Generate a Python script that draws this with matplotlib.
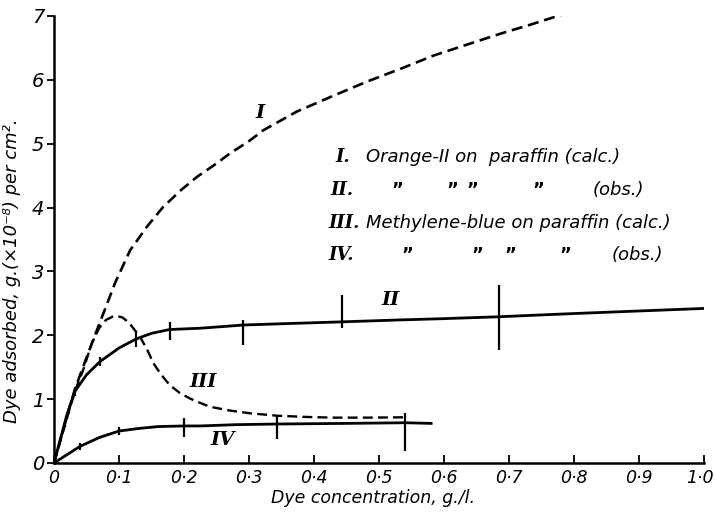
import matplotlib
matplotlib.use("Agg")
import matplotlib.pyplot as plt
import matplotlib.transforms as mtransforms

# curve I - Orange-II on paraffin (calc.)
conc_I = [0, 0.015, 0.032, 0.05, 0.066, 0.08, 0.094, 0.117, 0.143, 0.168, 0.195,
          0.22, 0.25, 0.271, 0.3, 0.322, 0.373, 0.425, 0.481, 0.535, 0.584,
          0.635, 0.686, 0.735, 0.784]
ads_I = [0, 0.55, 1.15, 1.65, 2.08, 2.45, 2.82, 3.33, 3.70, 4.01, 4.27,
         4.48, 4.69, 4.85, 5.04, 5.21, 5.50, 5.73, 5.97, 6.18, 6.38,
         6.55, 6.72, 6.87, 7.03]

# curve II - Orange-II on paraffin (obs.)
conc_II = [0, 0.01, 0.02, 0.032, 0.05, 0.071, 0.1, 0.126, 0.15, 0.178, 0.225,
           0.291, 0.35, 0.443, 0.532, 0.6, 0.685, 0.8, 0.9, 1.0]
ads_II = [0, 0.38, 0.76, 1.12, 1.38, 1.59, 1.80, 1.94, 2.03, 2.09, 2.11,
          2.16, 2.18, 2.21, 2.24, 2.26, 2.29, 2.34, 2.38, 2.42]
err_x_II = [0.032, 0.071, 0.126, 0.178, 0.291, 0.443, 0.685]
err_lo_II = [1.05, 1.52, 1.82, 1.92, 1.85, 2.11, 1.77]
err_hi_II = [1.19, 1.66, 2.05, 2.21, 2.24, 2.63, 2.79]

# curve III - Methylene-blue on paraffin (calc.)
conc_III = [0, 0.032, 0.045, 0.058, 0.07, 0.08, 0.09, 0.097, 0.105, 0.115, 0.125,
            0.132, 0.143, 0.153, 0.165, 0.178, 0.193, 0.209, 0.225, 0.24, 0.271,
            0.30, 0.343, 0.39, 0.43, 0.48, 0.537]
ads_III = [0, 1.12, 1.46, 1.87, 2.12, 2.24, 2.29, 2.30, 2.28, 2.20, 2.07,
           1.98, 1.78, 1.56, 1.38, 1.22, 1.10, 1.01, 0.94, 0.88, 0.82,
           0.78, 0.74, 0.72, 0.71, 0.71, 0.715]

# curve IV - Methylene-blue on paraffin (obs.)
conc_IV = [0, 0.02, 0.04, 0.07, 0.1, 0.13, 0.16, 0.2, 0.225, 0.28, 0.343,
           0.45, 0.54, 0.58]
ads_IV = [0, 0.13, 0.26, 0.40, 0.50, 0.54, 0.57, 0.58, 0.58, 0.60, 0.61,
          0.62, 0.63, 0.62]
err_x_IV = [0.04, 0.1, 0.2, 0.343, 0.54]
err_lo_IV = [0.21, 0.44, 0.41, 0.37, 0.19]
err_hi_IV = [0.31, 0.56, 0.70, 0.75, 0.79]

x_ticks = [0, 0.1, 0.2, 0.3, 0.4, 0.5, 0.6, 0.7, 0.8, 0.9, 1.0]
x_tick_labels = ["0", "0·1", "0·2", "0·3", "0·4", "0·5", "0·6", "0·7", "0·8", "0·9", "1·0"]
y_ticks = [0, 1, 2, 3, 4, 5, 6, 7]

# key text, one entry per line
key_numerals = ["I.", "II.", "III.", "IV."]
key_texts = ["Orange-II on  paraffin (calc.)", "", "Methylene-blue on paraffin (calc.)", ""]

SANS = dict(family="DejaVu Sans", style="italic")
ROMAN = dict(family="DejaVu Serif", style="italic", weight="bold")


def draw_curves(ax):
    dash = (0, (4.2, 2.2))
    ax.plot(conc_I, ads_I, color="black", lw=1.9, linestyle=dash)
    ax.plot(conc_III, ads_III, color="black", lw=1.7, linestyle=dash)
    ax.plot(conc_II, ads_II, color="black", lw=2.0)
    ax.plot(conc_IV, ads_IV, color="black", lw=2.0)

    #error ticks
    ax.vlines(err_x_II, err_lo_II, err_hi_II, color="black", lw=1.6)
    ax.vlines(err_x_IV, err_lo_IV, err_hi_IV, color="black", lw=1.6)

    #curve labels
    ax.text(0.317, 5.48, "I", fontsize=14, ha="center", va="center", **ROMAN)
    ax.text(0.517, 2.55, "II", fontsize=14, ha="center", va="center", **ROMAN)
    ax.text(0.23, 1.27, "III", fontsize=14, ha="center", va="center", **ROMAN)
    ax.text(0.26, 0.36, "IV", fontsize=14, ha="center", va="center", **ROMAN)


def draw_key(ax):
    rows_y = [4.79, 4.27, 3.76, 3.26]
    num_x = [0.433, 0.425, 0.422, 0.422]
    for i in range(4):
        ax.text(num_x[i], rows_y[i], key_numerals[i], fontsize=13, va="center", **ROMAN)
        if key_texts[i]:
            ax.text(0.48, rows_y[i], key_texts[i], fontsize=13, va="center", **SANS)

    #ditto marks
    for x in [0.528, 0.612, 0.643, 0.745]:
        ax.text(x, rows_y[1], "\u201d", fontsize=13, va="center", ha="center",
                family="DejaVu Sans", weight="bold")
    ax.text(0.829, rows_y[1], "(obs.)", fontsize=13, va="center", **SANS)
    for x in [0.543, 0.651, 0.702, 0.786]:
        ax.text(x, rows_y[3], "\u201d", fontsize=13, va="center", ha="center",
                family="DejaVu Sans", weight="bold")
    ax.text(0.858, rows_y[3], "(obs.)", fontsize=13, va="center", **SANS)


def main():
    fig = plt.figure(figsize=(7.15, 5.13), dpi=100)
    ax = fig.add_axes([0.0755, 0.0975, 0.9095, 0.8715])

    draw_curves(ax)
    draw_key(ax)

    ax.set_xlim(0, 1.0)
    ax.set_ylim(0, 7)
    ax.spines["top"].set_visible(False)
    ax.spines["right"].set_visible(False)
    ax.spines["left"].set_linewidth(1.8)
    ax.spines["bottom"].set_linewidth(1.8)

    ax.set_xticks(x_ticks)
    ax.set_xticklabels(x_tick_labels, fontsize=12.5, **SANS)
    ax.set_yticks(y_ticks)
    ax.set_yticklabels([str(v) for v in y_ticks], fontsize=14, **SANS)
    ax.tick_params(axis="x", direction="in", length=6, width=1.3, pad=4)
    ax.tick_params(axis="y", direction="out", length=5, width=1.3, pad=2)

    #last x label sits against the right edge
    last = ax.get_xticklabels()[-1]
    last.set_ha("right")
    last.set_transform(last.get_transform() +
                       mtransforms.ScaledTranslation(0.09, 0, fig.dpi_scale_trans))

    ax.set_xlabel("Dye concentration, g./l.", fontsize=12.5, **SANS)
    ax.xaxis.set_label_coords(0.49, -0.058)
    ax.set_ylabel("Dye adsorbed, g.(\u00d710\u207b\u2078) per cm\u00b2.", fontsize=13, **SANS)
    ax.yaxis.set_label_coords(-0.05, 0.43)

    fig.savefig("out.png", dpi=100)


if __name__ == '__main__':
    main()
